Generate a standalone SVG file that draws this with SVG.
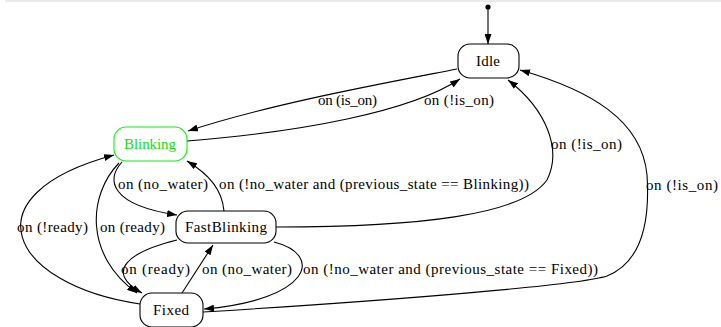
<svg xmlns="http://www.w3.org/2000/svg" width="721" height="327" viewBox="0 0 721 327">
  <style>
    .node rect { fill: #ffffff; stroke: #000000; stroke-width: 1.1; }
    .node text, .label { font-family: "Liberation Serif", "Times New Roman", serif; font-size: 15px; fill: #000000; }
    .node text { text-anchor: middle; }
    #blinking rect { stroke: #11ee11; }
    #blinking text { fill: #11dd11; }
    .edge { fill: none; stroke: #000000; stroke-width: 1.1; marker-end: url(#arrow); }
  </style>
  <defs>
    <marker id="arrow" viewBox="0 0 10 7" refX="10" refY="3.5" markerWidth="10" markerHeight="7" markerUnits="userSpaceOnUse" orient="auto">
      <path d="M0,0 L10,3.5 L0,7 Z" fill="#000000"/>
    </marker>
  </defs>
  <rect x="0" y="0" width="721" height="327" fill="#ffffff"/>
  <line x1="5" y1="1" x2="721" y2="1" stroke="#d4d4d4" stroke-width="1"/>

  <g id="connectors">
    <!-- initial pseudo-state -->
    <circle cx="488" cy="7" r="2.6" fill="#000000"/>
    <path class="edge" d="M488,9 L488,44"/>
    <!-- Idle -> Blinking -->
    <path class="edge" d="M457,69 C 380,84 270,104 188,131"/>
    <!-- Blinking -> Idle -->
    <path class="edge" d="M187,141 C 300,132 410,112 460,79"/>
    <!-- Blinking -> FastBlinking -->
    <path class="edge" d="M122,162 C 106,180 110,205 177,215"/>
    <!-- FastBlinking -> Blinking -->
    <path class="edge" d="M224,211 C 222,190 210,175 187,161"/>
    <!-- Blinking -> Fixed -->
    <path class="edge" d="M119,163 C 88,195 84,255 137,293"/>
    <!-- Fixed -> Blinking -->
    <path class="edge" d="M140,304 C 10,285 -35,195 114,155"/>
    <!-- FastBlinking -> Fixed -->
    <path class="edge" d="M177,240 C 128,252 104,272 142,293"/>
    <!-- Fixed -> FastBlinking -->
    <path class="edge" d="M182,293 L213,245"/>
    <!-- FastBlinking -> Fixed (back to previous state) -->
    <path class="edge" d="M274,242 C 325,255 310,300 204,309"/>
    <!-- FastBlinking -> Idle -->
    <path class="edge" d="M276,227 C 420,227 522,215 547,180 C 562,150 547,110 508,80"/>
    <!-- Fixed -> Idle -->
    <path class="edge" d="M203,312 C 400,300 580,285 607,276 C 642,262 650,220 647,175 C 642,120 590,90 520,70"/>

    <text class="label" x="318" y="105" textLength="59" lengthAdjust="spacing">on (is_on)</text>
    <text class="label" x="424" y="105" textLength="70" lengthAdjust="spacing">on (!is_on)</text>
    <text class="label" x="118" y="189" textLength="90" lengthAdjust="spacing">on (no_water)</text>
    <text class="label" x="219" y="189" textLength="310" lengthAdjust="spacing">on (!no_water and (previous_state == Blinking))</text>
    <text class="label" x="551" y="149" textLength="71" lengthAdjust="spacing">on (!is_on)</text>
    <text class="label" x="17" y="232" textLength="71" lengthAdjust="spacing">on (!ready)</text>
    <text class="label" x="100" y="232" textLength="65" lengthAdjust="spacing">on (ready)</text>
    <text class="label" x="121" y="274" textLength="69" lengthAdjust="spacing">on (ready)</text>
    <text class="label" x="202" y="274" textLength="90" lengthAdjust="spacing">on (no_water)</text>
    <text class="label" x="303" y="274" textLength="295" lengthAdjust="spacing">on (!no_water and (previous_state == Fixed))</text>
    <text class="label" x="646" y="190" textLength="72" lengthAdjust="spacing">on (!is_on)</text>
  </g>

  <g id="idle" class="node">
    <rect x="458" y="44" width="61" height="34" rx="12" ry="12"/>
    <text x="488" y="66" textLength="24" lengthAdjust="spacing">Idle</text>
  </g>
  <g id="blinking" class="node">
    <rect x="114" y="127" width="73" height="34" rx="12" ry="12"/>
    <text x="150" y="149" textLength="52" lengthAdjust="spacing">Blinking</text>
  </g>
  <g id="fastblinking" class="node">
    <rect x="176" y="211" width="100" height="32" rx="12" ry="12"/>
    <text x="226" y="232" textLength="82" lengthAdjust="spacing">FastBlinking</text>
  </g>
  <g id="fixed" class="node">
    <rect x="140" y="293" width="63" height="34" rx="12" ry="12"/>
    <text x="171" y="315" textLength="36" lengthAdjust="spacing">Fixed</text>
  </g>
</svg>
